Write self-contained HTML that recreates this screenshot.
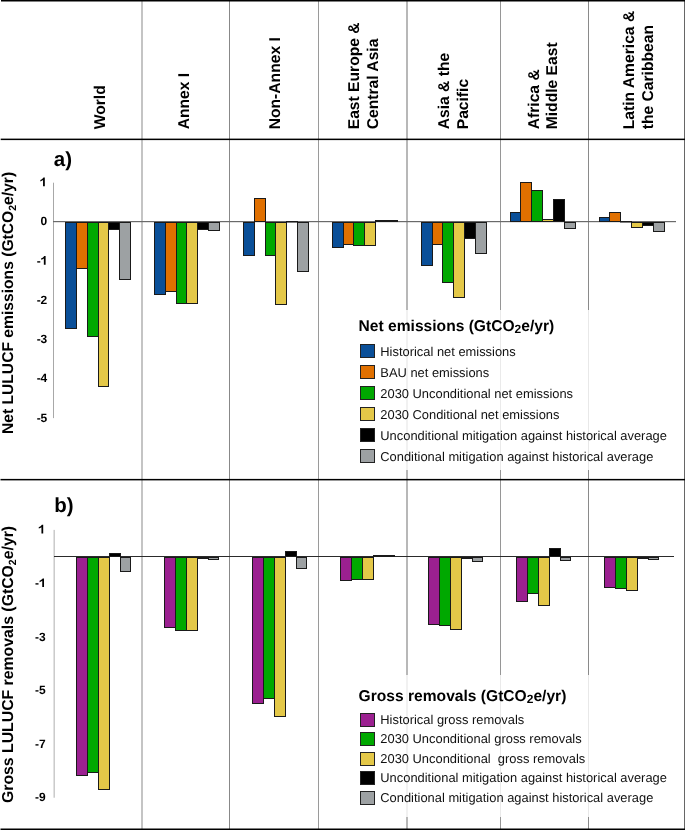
<!DOCTYPE html>
<html><head><meta charset="utf-8"><title>LULUCF emissions and removals</title>
<style>
html,body{margin:0;padding:0;background:#fff;}
body{width:685px;height:830px;overflow:hidden;}
svg{display:block;will-change:transform;}
text{font-family:"Liberation Sans", sans-serif;fill:#000;text-rendering:geometricPrecision;}
.tk{font-size:12px;font-weight:bold;}
.hd{font-size:15.65px;font-weight:bold;}
.hb{font-size:15.8px;}
.pl{font-size:20.5px;font-weight:bold;}
.lt{font-size:15.6px;font-weight:bold;}
.li{font-size:12.9px;fill:#111;}
.sub{font-size:10.5px;}
.subl{font-size:12px;}
</style></head>
<body>
<svg width="685" height="830" viewBox="0 0 685 830">
<rect x="141" y="0" width="2" height="830" fill="#c4c4c4"/>
<rect x="229" y="0" width="1" height="830" fill="#888888"/>
<rect x="318" y="0" width="1" height="830" fill="#9a9a9a"/>
<rect x="406" y="0" width="2" height="830" fill="#b8b8b8"/>
<rect x="500" y="0" width="1" height="830" fill="#969696"/>
<rect x="588" y="0" width="1" height="830" fill="#8a8a8a"/>
<rect x="684" y="0" width="1" height="830" fill="#666666"/>
<rect x="53" y="182.7" width="1" height="235.4" fill="#a8a8a8"/>
<path d="M0.415,0 L0.268,0 L0.268,0.52 C0.215,0.47 0.135,0.425 0.045,0.40 L0.045,0.525 C0.105,0.545 0.165,0.575 0.215,0.615 C0.262,0.652 0.29,0.685 0.303,0.716 L0.415,0.716 Z" transform="translate(39.83,186.20) scale(12,-12)" fill="#000"/>
<text x="47.30" y="225.43" text-anchor="end" class="tk">0</text>
<path d="M0.415,0 L0.268,0 L0.268,0.52 C0.215,0.47 0.135,0.425 0.045,0.40 L0.045,0.525 C0.105,0.545 0.165,0.575 0.215,0.615 C0.262,0.652 0.29,0.685 0.303,0.716 L0.415,0.716 Z" transform="translate(40.63,264.66) scale(12,-12)" fill="#000"/>
<text x="40.63" y="264.66" text-anchor="end" class="tk">-</text>
<text x="47.30" y="303.89" text-anchor="end" class="tk">-2</text>
<text x="47.30" y="343.12" text-anchor="end" class="tk">-3</text>
<text x="47.30" y="382.35" text-anchor="end" class="tk">-4</text>
<text x="47.30" y="421.58" text-anchor="end" class="tk">-5</text>
<rect x="53" y="221" width="623" height="1.2" fill="#6a6a6a"/>
<rect x="65.5" y="222.5" width="11.0" height="106.0" fill="#0A4F98" stroke="#1a1a1a" stroke-width="1"/>
<rect x="76.5" y="222.5" width="11.0" height="46.0" fill="#E07000" stroke="#1a1a1a" stroke-width="1"/>
<rect x="87.5" y="222.5" width="11.0" height="114.0" fill="#00A800" stroke="#1a1a1a" stroke-width="1"/>
<rect x="98.5" y="222.5" width="10.0" height="164.0" fill="#E4C848" stroke="#1a1a1a" stroke-width="1"/>
<rect x="108.5" y="222.5" width="11.0" height="7.0" fill="#000000" stroke="#1a1a1a" stroke-width="1"/>
<rect x="119.5" y="222.5" width="11.0" height="57.0" fill="#9DA1A3" stroke="#1a1a1a" stroke-width="1"/>
<rect x="154.5" y="222.5" width="11.0" height="72.0" fill="#0A4F98" stroke="#1a1a1a" stroke-width="1"/>
<rect x="165.5" y="222.5" width="11.0" height="69.0" fill="#E07000" stroke="#1a1a1a" stroke-width="1"/>
<rect x="176.5" y="222.5" width="10.0" height="81.0" fill="#00A800" stroke="#1a1a1a" stroke-width="1"/>
<rect x="186.5" y="222.5" width="11.0" height="81.0" fill="#E4C848" stroke="#1a1a1a" stroke-width="1"/>
<rect x="197.5" y="222.5" width="11.0" height="7.0" fill="#000000" stroke="#1a1a1a" stroke-width="1"/>
<rect x="208.5" y="222.5" width="11.0" height="8.0" fill="#9DA1A3" stroke="#1a1a1a" stroke-width="1"/>
<rect x="243.5" y="222.5" width="11.0" height="33.0" fill="#0A4F98" stroke="#1a1a1a" stroke-width="1"/>
<rect x="254.5" y="198.5" width="11.0" height="23.0" fill="#E07000" stroke="#1a1a1a" stroke-width="1"/>
<rect x="265.5" y="222.5" width="10.0" height="33.0" fill="#00A800" stroke="#1a1a1a" stroke-width="1"/>
<rect x="275.5" y="222.5" width="11.0" height="82.0" fill="#E4C848" stroke="#1a1a1a" stroke-width="1"/>
<rect x="286.0" y="221" width="12.0" height="1.5" fill="#1a1a1a"/>
<rect x="297.5" y="222.5" width="11.0" height="49.0" fill="#9DA1A3" stroke="#1a1a1a" stroke-width="1"/>
<rect x="332.5" y="222.5" width="11.0" height="25.0" fill="#0A4F98" stroke="#1a1a1a" stroke-width="1"/>
<rect x="343.5" y="222.5" width="10.0" height="22.0" fill="#E07000" stroke="#1a1a1a" stroke-width="1"/>
<rect x="353.5" y="222.5" width="11.0" height="23.0" fill="#00A800" stroke="#1a1a1a" stroke-width="1"/>
<rect x="364.5" y="222.5" width="11.0" height="23.0" fill="#E4C848" stroke="#1a1a1a" stroke-width="1"/>
<rect x="375.5" y="220.5" width="11.0" height="1.0" fill="#000000" stroke="#1a1a1a" stroke-width="1"/>
<rect x="386.5" y="220.5" width="11.0" height="1.0" fill="#9DA1A3" stroke="#1a1a1a" stroke-width="1"/>
<rect x="421.5" y="222.5" width="11.0" height="43.0" fill="#0A4F98" stroke="#1a1a1a" stroke-width="1"/>
<rect x="432.5" y="222.5" width="10.0" height="22.0" fill="#E07000" stroke="#1a1a1a" stroke-width="1"/>
<rect x="442.5" y="222.5" width="11.0" height="60.0" fill="#00A800" stroke="#1a1a1a" stroke-width="1"/>
<rect x="453.5" y="222.5" width="11.0" height="75.0" fill="#E4C848" stroke="#1a1a1a" stroke-width="1"/>
<rect x="464.5" y="222.5" width="11.0" height="16.0" fill="#000000" stroke="#1a1a1a" stroke-width="1"/>
<rect x="475.5" y="222.5" width="11.0" height="31.0" fill="#9DA1A3" stroke="#1a1a1a" stroke-width="1"/>
<rect x="510.5" y="212.5" width="10.0" height="9.0" fill="#0A4F98" stroke="#1a1a1a" stroke-width="1"/>
<rect x="520.5" y="182.5" width="11.0" height="39.0" fill="#E07000" stroke="#1a1a1a" stroke-width="1"/>
<rect x="531.5" y="190.5" width="11.0" height="31.0" fill="#00A800" stroke="#1a1a1a" stroke-width="1"/>
<rect x="542.5" y="219.5" width="11.0" height="2.0" fill="#E4C848" stroke="#1a1a1a" stroke-width="1"/>
<rect x="553.5" y="199.5" width="11.0" height="22.0" fill="#000000" stroke="#1a1a1a" stroke-width="1"/>
<rect x="564.5" y="222.5" width="11.0" height="6.0" fill="#9DA1A3" stroke="#1a1a1a" stroke-width="1"/>
<rect x="599.5" y="217.5" width="10.0" height="4.0" fill="#0A4F98" stroke="#1a1a1a" stroke-width="1"/>
<rect x="609.5" y="212.5" width="11.0" height="9.0" fill="#E07000" stroke="#1a1a1a" stroke-width="1"/>
<rect x="620.0" y="221" width="12.0" height="1.5" fill="#1a1a1a"/>
<rect x="631.5" y="222.5" width="11.0" height="5.0" fill="#E4C848" stroke="#1a1a1a" stroke-width="1"/>
<rect x="642.5" y="222.5" width="11.0" height="3.0" fill="#000000" stroke="#1a1a1a" stroke-width="1"/>
<rect x="653.5" y="222.5" width="11.0" height="9.0" fill="#9DA1A3" stroke="#1a1a1a" stroke-width="1"/>
<rect x="53" y="529.9" width="1" height="267.8" fill="#e2e2e2"/>
<rect x="54" y="529.9" width="1" height="267.8" fill="#cbcbcb"/>
<path d="M0.415,0 L0.268,0 L0.268,0.52 C0.215,0.47 0.135,0.425 0.045,0.40 L0.045,0.525 C0.105,0.545 0.165,0.575 0.215,0.615 C0.262,0.652 0.29,0.685 0.303,0.716 L0.415,0.716 Z" transform="translate(38.23,533.42) scale(12,-12)" fill="#000"/>
<path d="M0.415,0 L0.268,0 L0.268,0.52 C0.215,0.47 0.135,0.425 0.045,0.40 L0.045,0.525 C0.105,0.545 0.165,0.575 0.215,0.615 C0.262,0.652 0.29,0.685 0.303,0.716 L0.415,0.716 Z" transform="translate(39.03,586.98) scale(12,-12)" fill="#000"/>
<text x="39.03" y="586.98" text-anchor="end" class="tk">-</text>
<text x="45.70" y="640.54" text-anchor="end" class="tk">-3</text>
<text x="45.70" y="694.10" text-anchor="end" class="tk">-5</text>
<text x="45.70" y="747.66" text-anchor="end" class="tk">-7</text>
<text x="45.70" y="801.22" text-anchor="end" class="tk">-9</text>
<rect x="54" y="556" width="620" height="1" fill="#2a2a2a"/>
<rect x="76.5" y="557.5" width="11.0" height="218.0" fill="#9B2090" stroke="#1a1a1a" stroke-width="1"/>
<rect x="87.5" y="557.5" width="11.0" height="215.0" fill="#00A800" stroke="#1a1a1a" stroke-width="1"/>
<rect x="98.5" y="557.5" width="11.0" height="232.0" fill="#E4C848" stroke="#1a1a1a" stroke-width="1"/>
<rect x="109.5" y="553.5" width="11.0" height="3.0" fill="#000000" stroke="#1a1a1a" stroke-width="1"/>
<rect x="120.5" y="557.5" width="10.0" height="14.0" fill="#9DA1A3" stroke="#1a1a1a" stroke-width="1"/>
<rect x="164.5" y="557.5" width="11.0" height="70.0" fill="#9B2090" stroke="#1a1a1a" stroke-width="1"/>
<rect x="175.5" y="557.5" width="11.0" height="73.0" fill="#00A800" stroke="#1a1a1a" stroke-width="1"/>
<rect x="186.5" y="557.5" width="11.0" height="73.0" fill="#E4C848" stroke="#1a1a1a" stroke-width="1"/>
<rect x="197.5" y="557.5" width="11.0" height="1.0" fill="#000000" stroke="#1a1a1a" stroke-width="1"/>
<rect x="208.5" y="557.5" width="10.0" height="2.0" fill="#9DA1A3" stroke="#1a1a1a" stroke-width="1"/>
<rect x="252.5" y="557.5" width="11.0" height="146.0" fill="#9B2090" stroke="#1a1a1a" stroke-width="1"/>
<rect x="263.5" y="557.5" width="11.0" height="141.0" fill="#00A800" stroke="#1a1a1a" stroke-width="1"/>
<rect x="274.5" y="557.5" width="11.0" height="159.0" fill="#E4C848" stroke="#1a1a1a" stroke-width="1"/>
<rect x="285.5" y="551.5" width="11.0" height="5.0" fill="#000000" stroke="#1a1a1a" stroke-width="1"/>
<rect x="296.5" y="557.5" width="10.0" height="11.0" fill="#9DA1A3" stroke="#1a1a1a" stroke-width="1"/>
<rect x="340.5" y="557.5" width="11.0" height="23.0" fill="#9B2090" stroke="#1a1a1a" stroke-width="1"/>
<rect x="351.5" y="557.5" width="11.0" height="22.0" fill="#00A800" stroke="#1a1a1a" stroke-width="1"/>
<rect x="362.5" y="557.5" width="11.0" height="22.0" fill="#E4C848" stroke="#1a1a1a" stroke-width="1"/>
<rect x="373.5" y="555.5" width="11.0" height="1.0" fill="#000000" stroke="#1a1a1a" stroke-width="1"/>
<rect x="384.5" y="555.5" width="10.0" height="1.0" fill="#9DA1A3" stroke="#1a1a1a" stroke-width="1"/>
<rect x="428.5" y="557.5" width="11.0" height="67.0" fill="#9B2090" stroke="#1a1a1a" stroke-width="1"/>
<rect x="439.5" y="557.5" width="11.0" height="68.0" fill="#00A800" stroke="#1a1a1a" stroke-width="1"/>
<rect x="450.5" y="557.5" width="11.0" height="72.0" fill="#E4C848" stroke="#1a1a1a" stroke-width="1"/>
<rect x="461.5" y="557.5" width="11.0" height="1.0" fill="#000000" stroke="#1a1a1a" stroke-width="1"/>
<rect x="472.5" y="557.5" width="10.0" height="4.0" fill="#9DA1A3" stroke="#1a1a1a" stroke-width="1"/>
<rect x="516.5" y="557.5" width="11.0" height="44.0" fill="#9B2090" stroke="#1a1a1a" stroke-width="1"/>
<rect x="527.5" y="557.5" width="11.0" height="36.0" fill="#00A800" stroke="#1a1a1a" stroke-width="1"/>
<rect x="538.5" y="557.5" width="11.0" height="48.0" fill="#E4C848" stroke="#1a1a1a" stroke-width="1"/>
<rect x="549.5" y="548.5" width="11.0" height="8.0" fill="#000000" stroke="#1a1a1a" stroke-width="1"/>
<rect x="560.5" y="557.5" width="10.0" height="3.0" fill="#9DA1A3" stroke="#1a1a1a" stroke-width="1"/>
<rect x="604.5" y="557.5" width="11.0" height="30.0" fill="#9B2090" stroke="#1a1a1a" stroke-width="1"/>
<rect x="615.5" y="557.5" width="11.0" height="31.0" fill="#00A800" stroke="#1a1a1a" stroke-width="1"/>
<rect x="626.5" y="557.5" width="11.0" height="33.0" fill="#E4C848" stroke="#1a1a1a" stroke-width="1"/>
<rect x="637.5" y="557.5" width="11.0" height="1.0" fill="#000000" stroke="#1a1a1a" stroke-width="1"/>
<rect x="648.5" y="557.5" width="10.0" height="2.0" fill="#9DA1A3" stroke="#1a1a1a" stroke-width="1"/>
<rect x="345" y="310" width="327" height="160" fill="#fff" fill-opacity="0.8"/>
<text x="358.6" y="331.2" class="lt">Net emissions (GtCO<tspan class="subl" dy="1.6">2</tspan><tspan dy="-1.6">e/yr)</tspan></text>
<rect x="360.5" y="344.5" width="14" height="13" fill="#0A4F98" stroke="#222" stroke-width="1"/>
<text x="380.3" y="356.30" class="li">Historical net emissions</text>
<rect x="360.5" y="365.5" width="14" height="13" fill="#E07000" stroke="#222" stroke-width="1"/>
<text x="380.3" y="377.30" class="li">BAU net emissions</text>
<rect x="360.5" y="386.5" width="14" height="13" fill="#00A800" stroke="#222" stroke-width="1"/>
<text x="380.3" y="398.30" class="li">2030 Unconditional net emissions</text>
<rect x="360.5" y="407.5" width="14" height="13" fill="#E4C848" stroke="#222" stroke-width="1"/>
<text x="380.3" y="419.30" class="li">2030 Conditional net emissions</text>
<rect x="360.5" y="428.5" width="14" height="13" fill="#000000" stroke="#222" stroke-width="1"/>
<text x="380.3" y="440.30" class="li">Unconditional mitigation against historical average</text>
<rect x="360.5" y="449.5" width="14" height="13" fill="#9DA1A3" stroke="#222" stroke-width="1"/>
<text x="380.3" y="461.30" class="li">Conditional mitigation against historical average</text>
<rect x="345" y="675" width="327" height="142" fill="#fff" fill-opacity="0.8"/>
<text x="358.6" y="701.2" class="lt">Gross removals (GtCO<tspan class="subl" dy="1.6">2</tspan><tspan dy="-1.6">e/yr)</tspan></text>
<rect x="360.5" y="713.5" width="14" height="13" fill="#9B2090" stroke="#222" stroke-width="1"/>
<text x="380.3" y="724.00" class="li">Historical gross removals</text>
<rect x="360.5" y="732.5" width="14" height="13" fill="#00A800" stroke="#222" stroke-width="1"/>
<text x="380.3" y="743.40" class="li">2030 Unconditional gross removals</text>
<rect x="360.5" y="752.5" width="14" height="13" fill="#E4C848" stroke="#222" stroke-width="1"/>
<text x="380.3" y="762.80" class="li">2030 Unconditional&#160; gross removals</text>
<rect x="360.5" y="771.5" width="14" height="13" fill="#000000" stroke="#222" stroke-width="1"/>
<text x="380.3" y="782.20" class="li">Unconditional mitigation against historical average</text>
<rect x="360.5" y="791.5" width="14" height="13" fill="#9DA1A3" stroke="#222" stroke-width="1"/>
<text x="380.3" y="801.60" class="li">Conditional mitigation against historical average</text>
<text x="53.8" y="165.7" class="pl">a)</text>
<text x="54.2" y="511.7" class="pl">b)</text>
<text transform="translate(13.3,434.1) rotate(-90)" class="hd">Net LULUCF emissions (GtCO<tspan class="sub" dy="3">2</tspan><tspan dy="-3">e/yr)</tspan></text>
<text transform="translate(13.3,803) rotate(-90)" class="hd hb">Gross LULUCF removals (GtCO<tspan class="sub" dy="3">2</tspan><tspan dy="-3">e/yr)</tspan></text>
<text transform="translate(105.3,129.3) rotate(-90)" class="hd">World</text>
<text transform="translate(188.7,129.3) rotate(-90)" class="hd">Annex I</text>
<text transform="translate(279.8,129.3) rotate(-90)" class="hd">Non-Annex I</text>
<text transform="translate(359.2,129.3) rotate(-90)" class="hd">East Europe &amp;</text>
<text transform="translate(378.0,129.3) rotate(-90)" class="hd">Central Asia</text>
<text transform="translate(449.3,129.3) rotate(-90)" class="hd">Asia &amp; the</text>
<text transform="translate(468.3,129.3) rotate(-90)" class="hd">Pacific</text>
<text transform="translate(538.7,129.3) rotate(-90)" class="hd">Africa &amp;</text>
<text transform="translate(557.4,129.3) rotate(-90)" class="hd">Middle East</text>
<text transform="translate(633.9,129.3) rotate(-90)" class="hd">Latin America &amp;</text>
<text transform="translate(652.9,129.3) rotate(-90)" class="hd">the Caribbean</text>
<rect x="1" y="0" width="684" height="1.5" fill="#000"/>
<rect x="0.7" y="138.6" width="685" height="1.5" fill="#000"/>
<rect x="0.5" y="478.9" width="685" height="1.5" fill="#000"/>
<rect x="0.5" y="828.5" width="685" height="1.5" fill="#000"/>
</svg>
</body></html>
